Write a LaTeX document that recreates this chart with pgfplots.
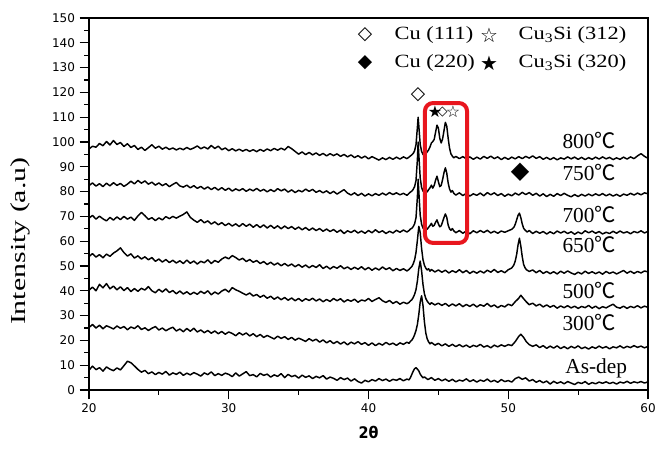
\documentclass[border=0pt]{standalone}
\usepackage{fontspec}
\setmainfont{Liberation Serif}
\newfontfamily\dejavu{DejaVu Sans}
\newfontfamily\cjk{Noto Sans CJK SC}
\usepackage{pgfplots}
\pgfplotsset{compat=1.18}
\definecolor{boxred}{RGB}{232,22,30}
\newcommand{\degC}{{\cjk ℃}}
\newcommand{\tempfont}{\fontsize{16}{16}\selectfont}
\newcommand{\legfont}{\fontsize{14}{14}\selectfont}
\newcommand{\symfont}{\dejavu\fontsize{14}{14}\selectfont}
\newcommand{\starfont}{\dejavu\fontsize{15}{15}\selectfont}
\pgfplotsset{trace/.style={black, solid, line width=1.1pt, line join=round, mark=none}}

\begin{document}
\begin{tikzpicture}
\begin{axis}[
  name=ax,
  scale only axis,
  width=419.25pt, height=279pt,
  xmin=20, xmax=60, ymin=0, ymax=150,
  xtick={20,30,...,60}, ytick={0,10,...,150},
  minor x tick num=1, minor y tick num=1,
  tick align=outside,
  xtick pos=left, ytick pos=left,
  major tick length=7pt, minor tick length=3.5pt,
  axis line style={line width=0.9pt},
  every tick/.style={black, line width=0.8pt},
  ticklabel style={font=\dejavu\fontsize{9}{9}\selectfont},
  /pgf/number format/assume math mode=true,
  xlabel={2θ},
  xlabel style={at={([yshift=-31.5pt]rel axis cs:0.5,0)}, anchor=center,
    font=\dejavu\bfseries\fontsize{12}{12}\selectfont, xscale=0.9},
  ylabel={Intensity (a.u)},
  ylabel style={at={([xshift=-51.75pt]rel axis cs:0,0.4)}, anchor=center,
    font=\fontsize{16}{16}\selectfont, xscale=1.4},
  clip=false,
  cycle list={{black}},
]
% As-dep
\addplot[trace] coordinates {(20,8.0) (20.25,9.6) (20.5,8.2) (20.75,9.0) (21,7.6) (21.25,9.3) (21.5,8.4) (21.75,7.8) (22,8.9) (22.25,8.1) (22.5,9.8) (22.75,11.6) (23,11.0) (23.25,9.7) (23.5,8.3) (23.75,7.2) (24,7.9) (24.25,6.6) (24.5,7.3) (24.75,6.2) (25,7.1) (25.25,6.4) (25.5,7.5) (25.75,6.0) (26,6.9) (26.25,6.3) (26.5,7.2) (26.75,5.9) (27,6.8) (27.25,6.1) (27.5,7.0) (27.75,6.4) (28,5.6) (28.25,6.9) (28.5,6.2) (28.75,7.3) (29,5.8) (29.25,6.6) (29.5,5.9) (29.75,6.8) (30,6.3) (30.25,5.4) (30.5,6.9) (30.75,5.6) (31,6.5) (31.25,7.4) (31.5,5.8) (31.75,6.2) (32,5.3) (32.25,6.7) (32.5,5.9) (32.75,6.4) (33,5.2) (33.25,6.1) (33.5,5.5) (33.75,6.6) (34,5.0) (34.25,6.3) (34.5,5.4) (34.75,5.9) (35,4.8) (35.25,6.0) (35.5,5.1) (35.75,5.7) (36,4.6) (36.25,5.5) (36.5,4.9) (36.75,5.8) (37,4.4) (37.25,5.2) (37.5,4.7) (37.75,3.9) (38,5.0) (38.25,4.2) (38.5,4.8) (38.75,3.6) (39,4.5) (39.25,3.4) (39.5,2.8) (39.75,3.9) (40,3.3) (40.25,4.2) (40.5,3.6) (40.75,4.6) (41,3.8) (41.25,4.4) (41.5,3.5) (41.75,4.3) (42,3.9) (42.25,4.6) (42.5,3.7) (42.75,4.4) (42.9,4.1) (43.0,5.0) (43.1,6.3) (43.2,7.6) (43.3,8.6) (43.4,9.0) (43.5,8.4) (43.6,7.7) (43.7,6.4) (43.8,5.6) (43.9,4.9) (44.0,5.3) (44.25,4.2) (44.5,5.0) (44.75,3.9) (45,4.6) (45.25,3.7) (45.5,4.4) (45.75,3.5) (46,4.3) (46.25,3.3) (46.5,4.0) (46.75,3.6) (47,4.5) (47.25,3.4) (47.5,4.1) (47.75,3.2) (48,4.0) (48.25,3.5) (48.5,4.4) (48.75,3.3) (49,3.9) (49.25,3.1) (49.5,4.2) (49.75,3.4) (50,3.8) (50.25,3.2) (50.5,4.6) (50.75,5.2) (51,4.3) (51.25,4.9) (51.5,3.6) (51.75,4.2) (52,3.1) (52.25,3.8) (52.5,2.9) (52.75,3.6) (53,2.4) (53.25,3.5) (53.5,2.7) (53.75,3.3) (54,2.5) (54.25,3.4) (54.5,2.8) (54.75,2.2) (55,3.1) (55.25,2.6) (55.5,3.4) (55.75,2.3) (56,3.0) (56.25,2.5) (56.5,3.2) (56.75,2.7) (57,3.3) (57.25,2.6) (57.5,3.1) (57.75,2.4) (58,3.2) (58.25,2.8) (58.5,3.5) (58.75,2.7) (59,3.3) (59.25,2.9) (59.5,3.4) (59.75,2.8) (60,3.3)};
% 300 C
\addplot[trace] coordinates {(20,25.2) (20.25,26.4) (20.5,25.0) (20.75,26.1) (21,24.7) (21.25,25.9) (21.5,25.3) (21.75,24.6) (22,25.8) (22.25,24.9) (22.5,25.6) (22.75,24.3) (23,25.4) (23.25,24.8) (23.5,25.9) (23.75,24.4) (24,25.1) (24.25,24.0) (24.5,24.9) (24.75,25.6) (25,24.2) (25.25,25.0) (25.5,23.9) (25.75,24.7) (26,25.3) (26.25,23.8) (26.5,24.6) (26.75,23.5) (27,24.8) (27.25,23.7) (27.5,24.9) (27.75,23.4) (28,24.2) (28.25,23.1) (28.5,24.0) (28.75,22.9) (29,23.8) (29.25,22.7) (29.5,23.6) (29.75,22.5) (30,23.4) (30.25,22.8) (30.5,21.9) (30.75,23.1) (31,22.2) (31.25,23.0) (31.5,21.8) (31.75,22.7) (32,21.5) (32.25,22.4) (32.5,21.2) (32.75,22.0) (33,21.3) (33.25,20.6) (33.5,21.7) (33.75,20.8) (34,21.5) (34.25,20.4) (34.5,21.2) (34.75,20.1) (35,20.9) (35.25,20.3) (35.5,19.6) (35.75,20.7) (36,19.8) (36.25,20.5) (36.5,19.3) (36.75,20.2) (37,19.0) (37.25,19.9) (37.5,18.7) (37.75,19.6) (38,18.5) (38.25,19.4) (38.5,18.2) (38.75,19.3) (39,18.6) (39.25,19.5) (39.5,18.4) (39.75,19.1) (40,18.0) (40.25,19.0) (40.5,17.9) (40.75,18.8) (41,18.1) (41.25,19.2) (41.5,18.3) (41.75,18.9) (42,18.0) (42.25,19.0) (42.5,18.4) (42.75,19.3) (42.9,18.8) (43.0,19.6) (43.1,20.1) (43.2,21.0) (43.3,22.3) (43.4,24.0) (43.5,26.5) (43.6,30.5) (43.7,35.5) (43.8,38.0) (43.9,34.0) (44.0,27.5) (44.1,23.0) (44.2,20.6) (44.3,19.4) (44.4,18.6) (44.5,19.2) (44.75,18.1) (45,18.8) (45.25,17.8) (45.5,18.6) (45.75,17.6) (46,18.4) (46.25,17.5) (46.5,18.3) (46.75,17.4) (47,18.1) (47.25,17.2) (47.5,18.0) (47.75,17.5) (48,18.4) (48.25,17.3) (48.5,17.9) (48.75,17.0) (49,18.1) (49.25,17.4) (49.5,18.2) (49.75,17.6) (50,18.3) (50.25,17.9) (50.5,19.5) (50.75,21.6) (50.9,22.5) (51.1,21.2) (51.3,19.4) (51.5,18.3) (51.75,17.6) (52,18.2) (52.25,17.1) (52.5,17.9) (52.75,16.8) (53,17.7) (53.25,16.9) (53.5,17.8) (53.75,16.7) (54,17.5) (54.25,16.6) (54.5,17.6) (54.75,16.9) (55,17.8) (55.25,16.7) (55.5,17.3) (55.75,16.5) (56,17.4) (56.25,16.8) (56.5,17.7) (56.75,16.9) (57,17.5) (57.25,16.6) (57.5,17.4) (57.75,17.0) (58,17.8) (58.25,16.9) (58.5,17.6) (58.75,17.1) (59,17.9) (59.25,17.2) (59.5,17.7) (59.75,17.0) (60,17.6)};
% 500 C
\addplot[trace] coordinates {(20,40.2) (20.25,41.5) (20.5,40.0) (20.75,42.6) (21,41.2) (21.25,42.9) (21.5,40.8) (21.75,41.9) (22,40.4) (22.25,41.6) (22.5,40.1) (22.75,41.3) (23,39.7) (23.25,40.9) (23.5,39.8) (23.75,41.0) (24,40.3) (24.25,41.7) (24.5,40.0) (24.75,39.2) (25,40.6) (25.25,39.5) (25.5,40.8) (25.75,39.3) (26,40.1) (26.25,38.8) (26.5,39.9) (26.75,38.7) (27,39.6) (27.25,38.5) (27.5,39.4) (27.75,38.6) (28,39.8) (28.25,38.9) (28.5,40.0) (28.75,38.4) (29,39.5) (29.25,38.7) (29.5,39.9) (29.75,40.6) (30,39.5) (30.25,41.3) (30.5,40.4) (30.75,39.8) (31,39.0) (31.25,38.3) (31.5,39.1) (31.75,37.9) (32,38.5) (32.25,37.4) (32.5,38.2) (32.75,37.0) (33,37.8) (33.25,36.6) (33.5,37.5) (33.75,36.4) (34,37.3) (34.25,36.2) (34.5,37.1) (34.75,36.0) (35,36.9) (35.25,35.8) (35.5,36.8) (35.75,36.1) (36,37.0) (36.25,35.9) (36.5,36.7) (36.75,35.6) (37,36.5) (37.25,35.7) (37.5,36.9) (37.75,36.0) (38,36.8) (38.25,35.5) (38.5,36.4) (38.75,35.8) (39,36.6) (39.25,35.4) (39.5,36.3) (39.75,35.9) (40,36.9) (40.25,35.7) (40.5,36.5) (40.75,37.2) (41,36.0) (41.25,35.3) (41.5,36.1) (41.75,34.9) (42,35.7) (42.25,34.6) (42.5,35.4) (42.75,34.8) (42.9,35.3) (43.0,35.9) (43.1,36.4) (43.2,37.3) (43.3,38.6) (43.4,40.5) (43.5,44.0) (43.6,49.0) (43.7,52.0) (43.8,48.0) (43.9,42.5) (44.0,38.8) (44.1,36.9) (44.2,35.8) (44.3,35.1) (44.4,34.5) (44.5,35.2) (44.75,34.3) (45,35.0) (45.25,34.1) (45.5,34.9) (45.75,33.8) (46,34.7) (46.25,33.9) (46.5,34.8) (46.75,33.6) (47,34.5) (47.25,33.7) (47.5,34.6) (47.75,33.5) (48,34.4) (48.25,33.8) (48.5,34.9) (48.75,33.6) (49,34.3) (49.25,33.2) (49.5,34.1) (49.75,33.5) (50,34.6) (50.25,34.0) (50.5,35.6) (50.75,37.0) (50.9,38.2) (51.1,36.8) (51.3,35.5) (51.5,34.4) (51.75,35.0) (52,33.9) (52.25,34.6) (52.5,33.5) (52.75,34.3) (53,33.4) (53.25,34.1) (53.5,33.0) (53.75,33.9) (54,33.2) (54.25,34.0) (54.5,33.1) (54.75,33.8) (55,32.9) (55.25,33.7) (55.5,33.2) (55.75,34.1) (56,33.0) (56.25,33.8) (56.5,32.8) (56.75,33.6) (57,33.1) (57.25,33.9) (57.5,34.6) (57.75,33.4) (58,33.0) (58.25,33.8) (58.5,32.9) (58.75,33.7) (59,33.2) (59.25,34.0) (59.5,33.1) (59.75,33.8) (60,33.3)};
% 650 C
\addplot[trace] coordinates {(20,53.8) (20.25,55.0) (20.5,53.6) (20.75,54.6) (21,53.3) (21.25,54.8) (21.5,53.9) (21.75,55.2) (22,56.1) (22.25,57.3) (22.5,55.4) (22.75,54.0) (23,54.9) (23.25,53.2) (23.5,54.1) (23.75,52.8) (24,53.7) (24.25,52.5) (24.5,53.4) (24.75,51.9) (25,52.8) (25.25,51.6) (25.5,52.6) (25.75,51.4) (26,52.3) (26.25,51.2) (26.5,52.1) (26.75,51.0) (27,52.4) (27.25,51.1) (27.5,52.0) (27.75,50.8) (28,51.9) (28.25,51.3) (28.5,52.5) (28.75,51.0) (29,52.2) (29.25,51.5) (29.5,52.8) (29.75,53.6) (30,52.9) (30.25,54.2) (30.5,53.4) (30.75,52.4) (31,53.1) (31.25,51.8) (31.5,52.6) (31.75,51.5) (32,52.2) (32.25,51.0) (32.5,51.8) (32.75,50.6) (33,51.5) (33.25,50.4) (33.5,51.2) (33.75,50.1) (34,51.0) (34.25,50.0) (34.5,50.8) (34.75,49.7) (35,50.6) (35.25,49.5) (35.5,50.4) (35.75,49.3) (36,50.2) (36.25,49.4) (36.5,50.5) (36.75,49.0) (37,49.9) (37.25,48.8) (37.5,49.8) (37.75,49.1) (38,50.1) (38.25,48.9) (38.5,49.6) (38.75,48.6) (39,49.5) (39.25,48.7) (39.5,49.7) (39.75,48.5) (40,49.4) (40.25,48.3) (40.5,49.2) (40.75,48.4) (41,49.6) (41.25,48.6) (41.5,49.3) (41.75,48.1) (42,49.0) (42.25,48.2) (42.5,48.9) (42.75,48.0) (42.9,48.6) (43.0,49.2) (43.1,49.8) (43.2,50.9) (43.3,52.5) (43.4,55.5) (43.5,60.5) (43.6,66.0) (43.7,63.5) (43.8,57.0) (43.9,52.5) (44.0,50.3) (44.1,49.1) (44.2,48.4) (44.3,48.9) (44.4,47.9) (44.5,48.6) (44.75,47.6) (45,48.4) (45.25,47.5) (45.5,48.3) (45.75,47.2) (46,48.1) (46.25,47.4) (46.5,48.5) (46.75,47.3) (47,48.2) (47.25,47.0) (47.5,47.9) (47.75,47.1) (48,48.0) (48.25,47.2) (48.5,48.3) (48.75,47.5) (49,48.6) (49.25,47.4) (49.5,48.1) (49.75,47.3) (50,48.5) (50.25,49.2) (50.4,50.4) (50.5,52.0) (50.6,54.6) (50.7,58.5) (50.8,61.2) (50.9,58.0) (51.0,53.8) (51.1,50.6) (51.2,49.3) (51.3,48.5) (51.5,47.8) (51.75,48.4) (52,47.3) (52.25,48.2) (52.5,47.0) (52.75,47.8) (53,46.9) (53.25,47.7) (53.5,46.8) (53.75,47.9) (54,47.1) (54.25,48.0) (54.5,47.2) (54.75,46.6) (55,47.5) (55.25,46.8) (55.5,47.9) (55.75,47.0) (56,47.7) (56.25,46.9) (56.5,47.6) (56.75,46.7) (57,47.8) (57.25,47.0) (57.5,47.6) (57.75,46.8) (58,47.5) (58.25,48.2) (58.5,47.1) (58.75,47.9) (59,47.0) (59.25,47.8) (59.5,47.2) (59.75,48.0) (60,47.6)};
% 700 C
\addplot[trace] coordinates {(20,69.3) (20.25,70.4) (20.5,68.9) (20.75,70.1) (21,69.0) (21.25,68.2) (21.5,69.6) (21.75,68.5) (22,69.8) (22.25,68.7) (22.5,70.0) (22.75,68.9) (23,69.7) (23.25,68.4) (23.5,70.2) (23.75,71.6) (24,70.3) (24.25,68.8) (24.5,69.5) (24.75,68.3) (25,69.4) (25.25,68.6) (25.5,69.9) (25.75,69.1) (26,70.0) (26.25,69.3) (26.5,70.1) (26.75,70.8) (27,71.8) (27.25,69.6) (27.5,68.5) (27.75,67.6) (28,68.7) (28.25,67.4) (28.5,68.2) (28.75,66.9) (29,67.8) (29.25,66.6) (29.5,67.5) (29.75,66.3) (30,67.2) (30.25,66.1) (30.5,67.0) (30.75,65.9) (31,67.1) (31.25,66.0) (31.5,66.9) (31.75,65.6) (32,66.7) (32.25,65.5) (32.5,66.6) (32.75,65.3) (33,66.4) (33.25,65.2) (33.5,66.2) (33.75,65.0) (34,66.1) (34.25,65.1) (34.5,65.9) (34.75,64.8) (35,65.7) (35.25,64.6) (35.5,65.5) (35.75,64.4) (36,65.3) (36.25,64.3) (36.5,65.1) (36.75,64.0) (37,64.9) (37.25,63.9) (37.5,64.7) (37.75,63.6) (38,64.5) (38.25,63.1) (38.5,64.2) (38.75,63.5) (39,64.4) (39.25,63.3) (39.5,64.1) (39.75,63.2) (40,64.3) (40.25,63.4) (40.5,64.6) (40.75,63.5) (41,64.2) (41.25,63.1) (41.5,64.0) (41.75,63.3) (42,64.4) (42.25,63.6) (42.5,64.5) (42.75,63.7) (42.9,64.3) (43.0,64.9) (43.1,65.2) (43.2,65.9) (43.3,67.0) (43.4,69.5) (43.5,78.0) (43.55,85.0) (43.6,80.0) (43.7,70.5) (43.8,66.8) (43.9,65.3) (44.0,64.6) (44.1,65.2) (44.2,64.8) (44.3,65.6) (44.4,66.3) (44.5,67.2) (44.6,66.0) (44.7,66.4) (44.8,67.6) (44.9,68.6) (45.0,67.0) (45.1,65.8) (45.2,66.2) (45.3,67.8) (45.4,69.5) (45.5,71.0) (45.6,69.6) (45.7,66.5) (45.8,65.0) (45.9,64.4) (46.0,65.1) (46.1,64.2) (46.25,63.4) (46.5,64.3) (46.75,63.2) (47,64.1) (47.25,63.0) (47.5,64.2) (47.75,63.4) (48,64.3) (48.25,63.5) (48.5,64.4) (48.75,63.3) (49,64.0) (49.25,63.2) (49.5,64.1) (49.75,63.6) (50,64.2) (50.25,64.8) (50.4,65.6) (50.5,66.8) (50.6,68.6) (50.7,70.4) (50.8,71.3) (50.9,69.5) (51.0,67.0) (51.1,65.2) (51.2,64.5) (51.35,63.7) (51.5,64.3) (51.75,63.1) (52,64.0) (52.25,63.2) (52.5,63.9) (52.75,62.9) (53,63.8) (53.25,63.0) (53.5,64.1) (53.75,63.3) (54,64.0) (54.25,63.1) (54.5,63.8) (54.75,62.8) (55,63.7) (55.25,63.0) (55.5,64.2) (55.75,63.4) (56,64.1) (56.25,63.2) (56.5,63.9) (56.75,62.9) (57,63.6) (57.25,63.1) (57.5,64.0) (57.75,63.2) (58,64.1) (58.25,63.3) (58.5,63.8) (58.75,63.0) (59,63.9) (59.25,63.4) (59.5,64.2) (59.75,63.3) (60,64.0)};
% 750 C
\addplot[trace] coordinates {(20,82.4) (20.25,83.5) (20.5,82.2) (20.75,83.2) (21,82.0) (21.25,83.4) (21.5,82.3) (21.75,83.6) (22,82.5) (22.25,83.3) (22.5,82.1) (22.75,83.0) (23,84.2) (23.25,83.1) (23.5,84.5) (23.75,83.4) (24,84.3) (24.25,83.0) (24.5,83.8) (24.75,82.6) (25,83.5) (25.25,82.4) (25.5,83.2) (25.75,82.0) (26,82.9) (26.25,83.7) (26.5,82.3) (26.75,81.8) (27,82.6) (27.25,81.5) (27.5,82.4) (27.75,81.3) (28,82.1) (28.25,81.0) (28.5,81.9) (28.75,80.8) (29,81.7) (29.25,80.6) (29.5,81.6) (29.75,80.5) (30,81.4) (30.25,80.2) (30.5,81.1) (30.75,80.4) (31,81.2) (31.25,80.1) (31.5,81.0) (31.75,80.3) (32,81.3) (32.25,80.2) (32.5,80.9) (32.75,79.9) (33,80.8) (33.25,80.0) (33.5,81.2) (33.75,80.3) (34,81.0) (34.25,79.8) (34.5,80.7) (34.75,79.6) (35,80.5) (35.25,79.9) (35.5,81.0) (35.75,80.1) (36,80.9) (36.25,79.7) (36.5,80.4) (36.75,79.5) (37,80.3) (37.25,79.2) (37.5,80.1) (37.75,79.0) (38,79.9) (38.25,80.8) (38.5,79.4) (38.75,78.6) (39,79.5) (39.25,78.4) (39.5,79.3) (39.75,78.2) (40,79.1) (40.25,78.3) (40.5,79.2) (40.75,78.5) (41,79.4) (41.25,78.6) (41.5,79.6) (41.75,78.8) (42,79.5) (42.25,78.7) (42.5,79.3) (42.75,78.5) (42.9,79.3) (43.0,79.8) (43.1,80.2) (43.2,80.9) (43.3,82.0) (43.4,84.5) (43.5,93.0) (43.55,100.0) (43.6,95.0) (43.7,85.5) (43.8,81.6) (43.9,80.2) (44.0,79.6) (44.1,80.3) (44.2,79.9) (44.3,80.8) (44.4,81.5) (44.5,82.6) (44.6,81.4) (44.7,82.5) (44.8,84.6) (44.9,86.2) (45.0,84.0) (45.1,82.0) (45.2,82.5) (45.3,84.8) (45.4,87.6) (45.5,89.6) (45.6,87.4) (45.7,83.5) (45.8,81.0) (45.9,79.8) (46.0,80.4) (46.1,79.3) (46.25,78.6) (46.5,79.5) (46.75,78.4) (47,79.3) (47.25,78.2) (47.5,79.1) (47.75,78.5) (48,79.4) (48.25,78.3) (48.5,79.6) (48.75,78.7) (49,79.5) (49.25,78.4) (49.5,79.2) (49.75,78.1) (50,79.0) (50.25,78.3) (50.5,79.4) (50.75,78.6) (51,79.7) (51.25,78.8) (51.5,79.6) (51.75,78.5) (52,79.3) (52.25,78.2) (52.5,79.1) (52.75,78.0) (53,78.9) (53.25,78.1) (53.5,79.2) (53.75,78.4) (54,79.3) (54.25,78.5) (54.5,77.9) (54.75,78.8) (55,78.0) (55.25,78.9) (55.5,78.2) (55.75,79.0) (56,78.3) (56.25,79.1) (56.5,78.4) (56.75,79.2) (57,78.3) (57.25,79.0) (57.5,78.2) (57.75,78.9) (58,78.1) (58.25,79.0) (58.5,78.5) (58.75,79.3) (59,78.6) (59.25,79.4) (59.5,78.7) (59.75,79.5) (60,79.1)};
% 800 C
\addplot[trace] coordinates {(20,97.2) (20.25,98.3) (20.5,97.9) (20.75,99.4) (21,98.5) (21.25,100.2) (21.5,98.8) (21.75,100.6) (22,99.0) (22.25,99.8) (22.5,98.2) (22.75,99.3) (23,97.8) (23.25,98.6) (23.5,97.0) (23.75,97.9) (24,96.6) (24.25,97.7) (24.5,98.9) (24.75,97.5) (25,98.3) (25.25,97.1) (25.5,97.9) (25.75,97.0) (26,97.6) (26.25,96.8) (26.5,97.5) (26.75,96.9) (27,97.8) (27.25,97.0) (27.5,97.6) (27.75,98.4) (28,97.3) (28.25,98.0) (28.5,97.2) (28.75,98.6) (29,97.4) (29.25,98.3) (29.5,96.9) (29.75,97.6) (30,96.5) (30.25,97.3) (30.5,96.4) (30.75,97.1) (31,96.3) (31.25,97.0) (31.5,96.2) (31.75,96.9) (32,96.1) (32.25,97.0) (32.5,96.3) (32.75,97.2) (33,96.5) (33.25,97.4) (33.5,96.7) (33.75,97.5) (34,96.8) (34.25,98.2) (34.5,97.3) (34.75,96.2) (35,95.1) (35.25,96.0) (35.5,94.9) (35.75,95.8) (36,94.8) (36.25,95.6) (36.5,94.6) (36.75,95.4) (37,94.4) (37.25,95.3) (37.5,94.5) (37.75,95.2) (38,94.2) (38.25,95.0) (38.5,94.0) (38.75,94.8) (39,93.7) (39.25,94.5) (39.5,93.5) (39.75,94.3) (40,93.2) (40.25,94.1) (40.5,93.4) (40.75,92.7) (41,93.6) (41.25,92.9) (41.5,93.8) (41.75,93.0) (42,93.9) (42.25,93.1) (42.5,94.0) (42.75,93.3) (42.9,93.9) (43.0,94.4) (43.1,94.8) (43.2,95.4) (43.3,96.5) (43.4,99.0) (43.5,106.0) (43.55,110.0) (43.6,106.5) (43.7,99.0) (43.8,96.2) (43.9,95.0) (44.0,94.6) (44.1,95.3) (44.2,96.0) (44.3,96.8) (44.4,98.0) (44.5,99.6) (44.6,100.2) (44.7,101.0) (44.8,104.0) (44.9,106.8) (45.0,105.6) (45.1,101.5) (45.2,99.6) (45.3,101.2) (45.4,104.5) (45.5,107.9) (45.6,106.4) (45.7,101.5) (45.8,97.5) (45.9,95.2) (46.0,94.3) (46.1,93.6) (46.25,94.2) (46.5,93.3) (46.75,94.1) (47,93.2) (47.25,94.0) (47.5,93.0) (47.75,93.9) (48,93.1) (48.25,94.2) (48.5,93.4) (48.75,94.3) (49,93.3) (49.25,94.0) (49.5,92.9) (49.75,93.8) (50,93.0) (50.25,93.9) (50.5,93.2) (50.75,94.1) (51,93.3) (51.25,94.2) (51.5,93.5) (51.75,94.4) (52,93.4) (52.25,94.1) (52.5,93.0) (52.75,93.8) (53,92.9) (53.25,93.7) (53.5,92.8) (53.75,93.6) (54,93.1) (54.25,94.0) (54.5,93.2) (54.75,93.9) (55,93.0) (55.25,93.8) (55.5,92.9) (55.75,93.7) (56,93.0) (56.25,93.9) (56.5,93.1) (56.75,94.0) (57,93.2) (57.25,93.8) (57.5,92.9) (57.75,93.6) (58,93.0) (58.25,93.9) (58.5,93.1) (58.75,94.0) (59,93.3) (59.25,94.4) (59.5,95.3) (59.75,94.2) (60,93.4)};

% red box round the Cu3Si peaks
\draw[boxred, line width=3pt, rounded corners=6pt] (axis cs:44.04,59.3) rectangle (axis cs:47.05,115.7);

% peak markers
\node[font=\symfont] at (axis cs:43.54,119) {◇};
\node[font=\dejavu\fontsize{12}{12}\selectfont] at (axis cs:44.76,112) {★};
\node[font=\dejavu\fontsize{10}{10}\selectfont] at (axis cs:45.3,112) {◇};
\node[font=\dejavu\fontsize{12}{12}\selectfont] at (axis cs:46.05,112) {☆};
\node[font=\dejavu\fontsize{18}{18}\selectfont] at (axis cs:50.84,87.9) {◆};

% key
\node[font=\symfont] at (axis cs:39.75,143.1) {◇};
\node[anchor=west, font=\legfont, xscale=1.2] at (axis cs:41.47,143.1) {Cu (111)};
\node[font=\starfont] at (axis cs:48.62,143.1) {☆};
\node[anchor=west, font=\legfont, xscale=1.2] at (axis cs:50.34,143.1) {Cu\textsubscript{3}Si (312)};
\node[font=\symfont] at (axis cs:39.75,131.9) {◆};
\node[anchor=west, font=\legfont, xscale=1.2] at (axis cs:41.47,131.9) {Cu (220)};
\node[font=\starfont] at (axis cs:48.62,131.9) {★};
\node[anchor=west, font=\legfont, xscale=1.2] at (axis cs:50.34,131.9) {Cu\textsubscript{3}Si (320)};

% temperatures
\node[anchor=west, font=\tempfont] at (axis cs:53.55,100.8) {800\degC};
\node[anchor=west, font=\tempfont] at (axis cs:53.55,87.9) {750\degC};
\node[anchor=west, font=\tempfont] at (axis cs:53.55,70.6) {700\degC};
\node[anchor=west, font=\tempfont] at (axis cs:53.55,58.5) {650\degC};
\node[anchor=west, font=\tempfont] at (axis cs:53.55,40.3) {500\degC};
\node[anchor=west, font=\tempfont] at (axis cs:53.55,27.4) {300\degC};
\node[anchor=west, font=\tempfont] at (axis cs:53.75,8.9) {As-dep};
\end{axis}
\pgfresetboundingbox
\path[use as bounding box] ([xshift=-66.75pt,yshift=-43.5pt]ax.south west) rectangle ([xshift=15pt,yshift=13.5pt]ax.north east);
\end{tikzpicture}
\end{document}
